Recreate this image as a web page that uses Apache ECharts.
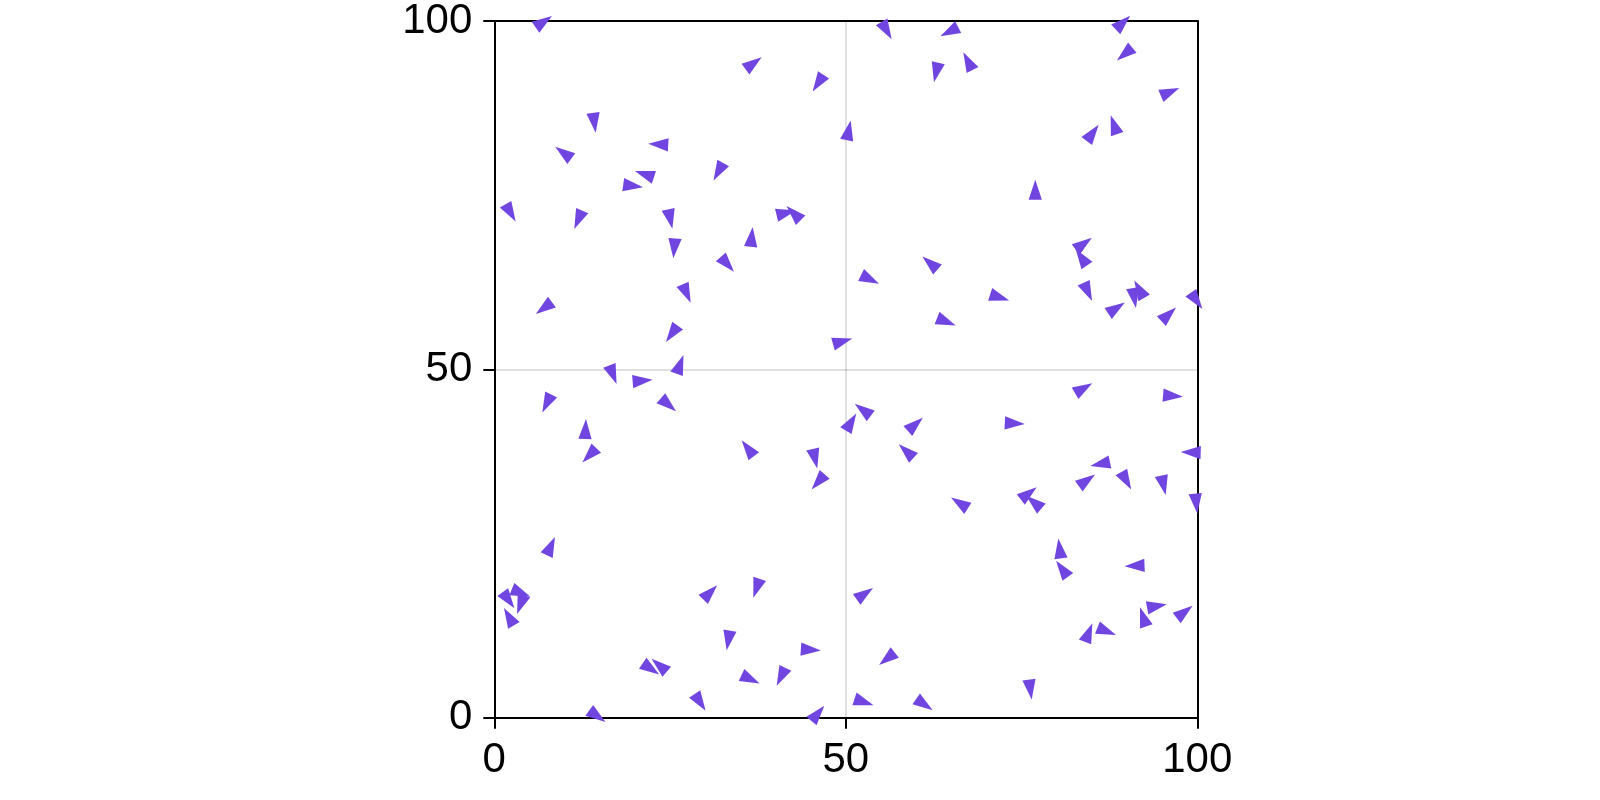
<!DOCTYPE html>
<html>
<head>
<meta charset="utf-8">
<script src="https://cdn.jsdelivr.net/npm/echarts@6/dist/echarts.min.js"></script>
<style>
html,body{margin:0;padding:0;background:#fff;}
#chart{width:1600px;height:800px;}
</style>
</head>
<body>
<div id="chart"></div>
<script>
// Point positions (data units) and marker rotation (degrees, counter-clockwise; 0 = apex up)
const xs = [7.04,14.23,9.81,23.32,21.35,19.75,31.87,2.32,11.94,25.03,25.59,
  55.81,36.88,46.06,50.41,62.85,64.72,42.57,41.54,36.61,
  67.37,89.42,89.66,96.13,85.12,88.14,76.95,83.85,83.5,
  33.16,27.36,7.05,25.25,26.42,16.88,21.1,24.77,7.46,12.97,13.52,
  53.45,61.97,64.31,49.55,52.41,50.75,59.89,58.58,36.05,45.62,46.07,
  84.43,71.89,91.74,91.04,88.51,95.93,99.9,83.84,96.55,74.04,86.18,84.3,89.9,95.19,99.06,99.85,
  8.04,2.03,3.81,3.73,2.08,30.71,22.28,23.45,29.28,14.66,
  37.3,33.29,45.03,36.46,40.79,46.03,52.71,55.85,52.59,61.19,
  66.16,76.02,76.74,80.42,80.75,91.07,94.26,92.3,98.2,84.55,87.12,76.25];
const ys = [99.9,85.40,81.09,82.30,78.01,76.32,78.35,72.46,71.48,71.57,67.36,
  98.63,93.94,91.07,84.32,92.61,98.47,72.42,72.46,69.02,
  94.24,99.78,95.25,89.81,83.94,85.13,75.79,68.04,66.08,
  65.08,60.89,58.8,55.1,50.71,49.23,48.37,44.91,45.1,41.43,37.65,
  62.91,65.26,56.84,54.02,44.19,42.43,42.1,38.27,38.67,37.18,33.84,
  61.12,60.32,61.51,60.24,58.8,57.91,59.82,47.29,46.19,42.24,36.42,34.08,34.02,33.35,38.09,30.74,
  24.64,16.86,17.91,16.24,14.5,18.0,7.01,7.54,2.2,0.22,
  18.58,11.08,9.74,5.52,5.86,0.62,17.8,8.46,2.25,1.89,
  30.82,32.19,30.94,24.3,21.38,21.81,16.03,14.48,15.19,12.22,12.4,4.05];
const angles = [-55.6,-172.5,53.6,86.6,71.9,-97.9,151,-149.6,156.7,-167.9,175.3,
  -150,-53.8,146.7,-11.6,167.5,117.3,44.7,-76.4,-5.8,
  27.4,-46.4,129.7,-67.1,-36.6,19,0,-54,34.3,
  -138.7,-156.2,126.3,144.2,-20.2,-159,-85.2,-131,153.7,-2.8,136,
  -116.4,49.2,-111.6,-74.2,53,-31.1,-48.4,47.7,37.5,-166.9,139.1,
  -155.2,-107.7,29.8,-170.7,-56.7,-47,-144.7,-59.6,-94.6,-92.8,101.9,-54.3,-150.5,-167.5,88.3,-173.9,
  -24.6,-144.3,-112.4,160,29.8,-44.3,-124.7,49.4,-146.8,-126,
  161.4,170.6,-93.75,-115.1,154.1,-40,-55.3,128.4,-108.3,-124.4,
  57.6,-52.5,49.4,7.8,36,92.3,-79.4,18.6,-52.7,-21.6,-111.6,-172.2];
const tickValues = [0, 50, 100];

const chart = echarts.init(document.getElementById('chart'), null, {renderer: 'canvas'});
const font = 'Liberation Sans, Arial, Helvetica, sans-serif';
const mainAxis = (pos) => ({
  type: 'value', position: pos, min: tickValues[0], max: tickValues[tickValues.length - 1],
  interval: tickValues[1] - tickValues[0],
  axisLine: {show: true, onZero: false, lineStyle: {color: '#000', width: 2}},
  axisTick: {show: true, inside: false, length: 11, lineStyle: {color: '#000', width: 2}},
  axisLabel: {show: true, margin: 22, fontSize: 42, color: '#000', fontFamily: font},
  splitLine: {show: true, lineStyle: {color: 'rgba(0,0,0,0.12)', width: 2}}
});
const frameAxis = (pos) => ({
  type: 'value', position: pos, min: tickValues[0], max: tickValues[tickValues.length - 1],
  axisLine: {show: true, onZero: false, lineStyle: {color: '#000', width: 2}},
  axisTick: {show: false}, axisLabel: {show: false}, splitLine: {show: false}
});

chart.setOption({
  animation: false,
  backgroundColor: '#fff',
  grid: {left: 494.3, right: 402.7, top: 15.7, bottom: 82.3, containLabel: false},
  xAxis: [mainAxis('bottom'), frameAxis('top')],
  yAxis: [mainAxis('left'), frameAxis('right')],
  series: [{
    type: 'scatter',
    clip: true,
    symbol: 'path://M0,0L1,3L-1,3Z',
    symbolSize: [13.3, 20],
    itemStyle: {color: '#7146e0', opacity: 1},
    data: xs.map((x, i) => ({value: [x, ys[i]], symbolRotate: angles[i]}))
  }]
});
</script>
</body>
</html>
